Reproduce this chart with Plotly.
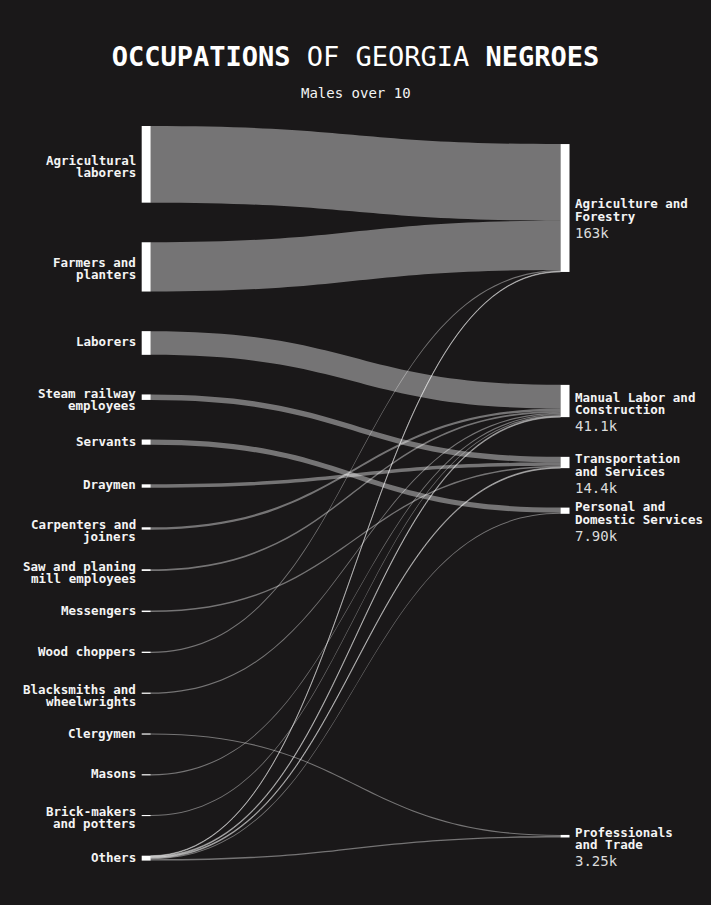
import plotly.graph_objects as go

# ---------------- data ----------------
source_names = [
    "Agricultural laborers", "Farmers and planters", "Laborers",
    "Steam railway employees", "Servants", "Draymen", "Carpenters and joiners",
    "Saw and planing mill employees", "Messengers", "Wood choppers",
    "Blacksmiths and wheelwrights", "Clergymen", "Masons",
    "Brick-makers and potters", "Others",
]
source_label_lines = [
    ["Agricultural", "laborers"], ["Farmers and", "planters"], ["Laborers"],
    ["Steam railway", "employees"], ["Servants"], ["Draymen"],
    ["Carpenters and", "joiners"], ["Saw and planing", "mill employees"],
    ["Messengers"], ["Wood choppers"], ["Blacksmiths and", "wheelwrights"],
    ["Clergymen"], ["Masons"], ["Brick-makers", "and potters"], ["Others"],
]
target_names = [
    "Agriculture and Forestry", "Manual Labor and Construction",
    "Transportation and Services", "Personal and Domestic Services",
    "Professionals and Trade",
]
target_label_lines = [
    ["Agriculture and", "Forestry"], ["Manual Labor and", "Construction"],
    ["Transportation", "and Services"], ["Personal and", "Domestic Services"],
    ["Professionals", "and Trade"],
]

# links: source index -> target index, value (persons)
link_source = [0, 1, 2, 3, 4, 5, 6, 7, 8, 9, 10, 11, 12, 13, 14, 14, 14, 14, 14]
link_target = [0, 0, 1, 2, 3, 2, 1, 1, 2, 0, 1, 4, 1, 1, 0, 1, 2, 3, 4]
link_value = [97700, 62800, 30200, 7000, 6600, 4300, 3000, 2200, 1900, 1700,
              1600, 1500, 1500, 1400, 800, 1200, 1200, 1300, 1750]

# ---------------- layout constants ----------------
W, H_FIG = 711, 905
M_L, M_R, M_T, M_B = 100, 100, 126, 44
PLOT_H = H_FIG - M_T - M_B          # visible column span (px)
SK_H = 540                          # sankey domain height (sets node scale)
SK_PAD = 25.7                       # sankey pad (only affects scale)
GAP = 39.6                          # visual gap between left nodes (px)
NODE_W = 9
LEFT_X = 0.0904
RIGHT_X = 0.91
RIGHT_Y_PX = [82, 275, 336.5, 384.7, 710.2]  # target node centres, px from top

BG = "#1a1819"
FONT = "DejaVu Sans Mono"
TXT = "#f4f4f4"

n_src = len(source_names)
src_tot = [0.0] * n_src
tgt_tot = [0.0] * len(target_names)
for s, t, v in zip(link_source, link_target, link_value):
    src_tot[s] += v
    tgt_tot[t] += v
total = sum(src_tot)

pad_eff = min(SK_PAD, 2.0 / 3.0 * SK_H / (n_src - 1))
ky = (SK_H - (n_src - 1) * pad_eff) / total

left_px = []
y0 = 0.0
for v in src_tot:
    h = v * ky
    left_px.append(y0 + h / 2)
    y0 += h + GAP

node_x = [LEFT_X] * n_src + [RIGHT_X] * len(target_names)
node_y = [p / SK_H for p in left_px] + [p / SK_H for p in RIGHT_Y_PX]

fig = go.Figure(go.Sankey(
    arrangement="fixed",
    domain=dict(x=[0, 1], y=[1 - SK_H / PLOT_H, 1]),
    node=dict(
        label=[""] * (n_src + len(target_names)),
        customdata=source_names + target_names,
        hovertemplate="%{customdata}: %{value}<extra></extra>",
        x=node_x, y=node_y,
        pad=SK_PAD, thickness=NODE_W,
        color="#ffffff",
        line=dict(width=0),
    ),
    link=dict(
        source=link_source,
        target=[t + n_src for t in link_target],
        value=link_value,
        color="rgba(255,255,255,0.4)",
        line=dict(width=0),
    ),
))


def fmt_k(v):
    k = v / 1000.0
    digits = len(str(int(round(k, 2))))
    dec = max(0, 3 - digits)
    return f"{k:.{dec}f}k"


def py(px):
    return 1 - px / PLOT_H


ann = []
for i, lines in enumerate(source_label_lines):
    cy = py(left_px[i])
    offs = [-1] if len(lines) == 1 else [-4, 8]
    for line, off in zip(lines, offs):
        ann.append(dict(x=LEFT_X, y=cy, xref="paper", yref="paper",
                        xanchor="right", yanchor="middle", showarrow=False,
                        xshift=-(NODE_W / 2 + 5), yshift=-off, text=line,
                        borderpad=0,
                        font=dict(family=FONT, size=12.5, color=TXT, weight="bold")))

for j, lines in enumerate(target_label_lines):
    cy = py(RIGHT_Y_PX[j])
    for line, off in zip(lines, [-4, 8.5]):
        ann.append(dict(x=RIGHT_X, y=cy, xref="paper", yref="paper",
                        xanchor="left", yanchor="middle", showarrow=False,
                        xshift=NODE_W / 2 + 4.5, yshift=-off, text=line,
                        borderpad=0,
                        font=dict(family=FONT, size=12.5, color=TXT, weight="bold")))
    ann.append(dict(x=RIGHT_X, y=cy, xref="paper", yref="paper",
                    xanchor="left", yanchor="middle", showarrow=False,
                    xshift=NODE_W / 2 + 4.5, yshift=-25, text=fmt_k(tgt_tot[j]),
                    borderpad=0,
                    font=dict(family=FONT, size=14, color="#dcdcdc")))

ann.append(dict(x=0.5, y=py(93 - M_T), xref="paper", yref="paper",
                xanchor="center", yanchor="middle", showarrow=False,
                text="Males over 10",
                font=dict(family=FONT, size=14, color=TXT)))

fig.update_layout(
    width=W, height=H_FIG,
    margin=dict(l=M_L, r=M_R, t=M_T, b=M_B),
    paper_bgcolor=BG, plot_bgcolor=BG,
    title=dict(text="<b>OCCUPATIONS</b> OF GEORGIA <b>NEGROES</b>",
               x=0.5, xanchor="center", y=1 - 57 / H_FIG, yanchor="middle",
               yref="container",
               font=dict(family=FONT, size=27, color="#ffffff")),
    annotations=ann,
    font=dict(family=FONT, color=TXT),
)

fig.write_html("out.html",
               config={"displayModeBar": False},
               post_script="document.body.style.margin='0';"
                           "document.body.style.background='" + BG + "';")
